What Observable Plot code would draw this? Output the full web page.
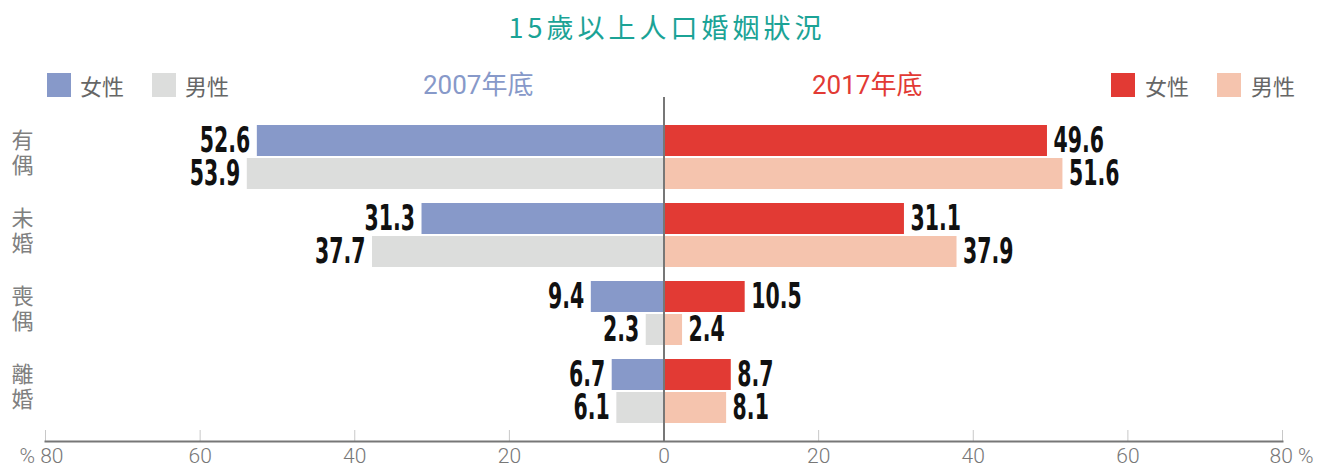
<!DOCTYPE html>
<html>
<head>
<meta charset="utf-8">
<script src="https://cdn.jsdelivr.net/npm/d3@7"></script>
<script src="https://cdn.jsdelivr.net/npm/@observablehq/plot@0.6"></script>
<style>
  html, body { margin: 0; padding: 0; background: #fff; }
  #wrap { width: 1326px; }
  #head { position: relative; width: 1326px; height: 96px; font-family: "Noto Sans CJK TC", sans-serif; }
  #title { position: absolute; left: 0; width: 1326px; top: 8px; text-align: center; font-size: 27px; letter-spacing: 4px; color: #1ba396; line-height: 38px; text-indent: 8px; }
  .sw { position: absolute; width: 24px; height: 24px; top: 73px; }
  .lt { position: absolute; top: 70px; font-size: 22px; line-height: 30px; color: #666; }
  .yr { position: absolute; top: 69px; font-size: 26px; line-height: 32px; font-family: Roboto, "Noto Sans CJK TC", sans-serif; }
  svg { display: block; }
</style>
</head>
<body>
<div id="wrap">
  <div id="head">
    <div id="title">15歲以上人口婚姻狀況</div>
  </div>
  <div id="chart"></div>
</div>
<script>
// ---- data ----
const categories = ["有偶", "未婚", "喪偶", "離婚"];
const female2007 = [52.6, 31.3, 9.4, 6.7];
const male2007   = [53.9, 37.7, 2.3, 6.1];
const female2017 = [49.6, 31.1, 10.5, 8.7];
const male2017   = [51.6, 37.9, 2.4, 8.1];
const xTicks = [-80, -60, -40, -20, 0, 20, 40, 60, 80];
const yearLabels = ["2007年底", "2017年底"];
const sexLabels = ["女性", "男性"];

const colors = {
  "2007女": "#8799c9",
  "2007男": "#dcdddc",
  "2017女": "#e23a34",
  "2017男": "#f5c4ae"
};

// ---- header (legend) ----
const head = document.getElementById("head");
function addSwatch(left, color) {
  const d = document.createElement("div");
  d.className = "sw"; d.style.left = left + "px"; d.style.background = color;
  head.appendChild(d);
}
function addText(cls, left, text, color) {
  const d = document.createElement("div");
  d.className = cls; d.style.left = left + "px"; d.textContent = text;
  if (color) d.style.color = color;
  head.appendChild(d);
}
addSwatch(47, colors["2007女"]); addText("lt", 80, sexLabels[0]);
addSwatch(152, colors["2007男"]); addText("lt", 185, sexLabels[1]);
addText("yr", 423, yearLabels[0], "#8799c9");
addText("yr", 812, yearLabels[1], "#e23a34");
addSwatch(1111, colors["2017女"]); addText("lt", 1145, sexLabels[0]);
addSwatch(1217, colors["2017男"]); addText("lt", 1251, sexLabels[1]);

// ---- table ----
const rows = [];
categories.forEach((c, i) => {
  rows.push({cat: c, year: "2007", sex: "女", value: female2007[i]});
  rows.push({cat: c, year: "2007", sex: "男", value: male2007[i]});
  rows.push({cat: c, year: "2017", sex: "女", value: female2017[i]});
  rows.push({cat: c, year: "2017", sex: "男", value: male2017[i]});
});
const signed = d => d.year === "2007" ? -d.value : d.value;
const fem = rows.filter(d => d.sex === "女");
const mal = rows.filter(d => d.sex === "男");

const H = 376;
const labelFont = "'Liberation Sans Narrow', 'DejaVu Sans Condensed', 'Arial Narrow', sans-serif";
const labelOpts = {fontSize: 35, fontWeight: "bold", fontFamily: labelFont, fill: "#111", className: "vlabel"};
const tickOpts = {frameAnchor: "bottom", dy: 21, fontSize: 21, fill: "#777", fontFamily: "Roboto, sans-serif", fontWeight: 300};

const chart = Plot.plot({
  width: 1326,
  height: H,
  marginLeft: 45,
  marginRight: 44,
  marginTop: 1,
  marginBottom: 31,
  x: {domain: [-80, 80], axis: null},
  y: {type: "band", domain: categories, range: [29, 327], paddingInner: 14 / 78, paddingOuter: 0, axis: null},
  marks: [
    // bars
    Plot.barX(fem, {y: "cat", x1: 0, x2: signed, fill: d => colors[d.year + d.sex], insetBottom: 33}),
    Plot.barX(mal, {y: "cat", x1: 0, x2: signed, fill: d => colors[d.year + d.sex], insetTop: 33}),
    // value labels
    Plot.text(fem.filter(d => d.year === "2007"), {y: "cat", x: signed, text: d => d.value.toFixed(1), textAnchor: "end", dx: -7, dy: -16.5, ...labelOpts}),
    Plot.text(mal.filter(d => d.year === "2007"), {y: "cat", x: signed, text: d => d.value.toFixed(1), textAnchor: "end", dx: -7, dy: 16.5, ...labelOpts}),
    Plot.text(fem.filter(d => d.year === "2017"), {y: "cat", x: signed, text: d => d.value.toFixed(1), textAnchor: "start", dx: 6, dy: -16.5, ...labelOpts}),
    Plot.text(mal.filter(d => d.year === "2017"), {y: "cat", x: signed, text: d => d.value.toFixed(1), textAnchor: "start", dx: 6, dy: 16.5, ...labelOpts}),
    // category labels (vertical writing)
    Plot.text(categories, {y: d => d, text: d => d, frameAnchor: "left", textAnchor: "middle", dx: -23, dy: -4, fontSize: 22, fill: "#808080", fontFamily: "'Noto Sans CJK TC', sans-serif", className: "catlabel"}),
    // tick marks (upward)
    Plot.ruleX(xTicks, {x: d => d, stroke: "#c8c8c8", strokeWidth: 1, insetTop: 333}),
    // axis baseline
    Plot.frame({anchor: "bottom", stroke: "#777", strokeWidth: 2}),
    // center line
    Plot.ruleX([0], {stroke: "#777", strokeWidth: 2}),
    // tick labels
    Plot.text(xTicks.filter(t => Math.abs(t) !== 80), {x: d => d, text: d => String(Math.abs(d)), ...tickOpts}),
    Plot.text([-80], {x: d => d, text: d => "% " + Math.abs(d), textAnchor: "end", dx: 18, ...tickOpts}),
    Plot.text([80], {x: d => d, text: d => Math.abs(d) + " %", textAnchor: "start", dx: -13, ...tickOpts})
  ]
});

document.getElementById("chart").appendChild(chart);

// condense the value labels horizontally (narrow display face)
chart.querySelectorAll(".vlabel text").forEach(t => {
  const tr = t.getAttribute("transform") || "";
  t.setAttribute("transform", tr + " scale(0.65,1)");
});
// category labels written top-to-bottom
chart.querySelectorAll(".catlabel text").forEach(t => {
  t.removeAttribute("y");
  t.style.writingMode = "vertical-rl";
  t.style.letterSpacing = "3px";
});
</script>
</body>
</html>
